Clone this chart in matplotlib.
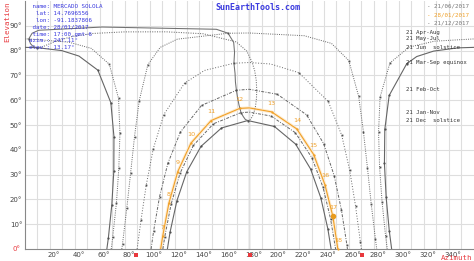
import matplotlib
matplotlib.use("Agg")
import matplotlib.pyplot as plt
from matplotlib.transforms import ScaledTranslation

# sun paths: azimuth / elevation (deg)
jun_az = [65.7, 66.9, 69.7, 71.3, 71.4, 68.9, 58.5, 43.3, 29.5, 9.6, 0.0, 360.0, 347.2, 328.0, 314.4, 306.4, 292.3, 288.8, 288.5, 289.9, 292.4, 294.3]
jun_el = [0, 4.4, 17.9, 31.6, 45.3, 59.0, 72.1, 77.8, 80.0, 81.2, 81.3, 81.3, 81.1, 79.8, 77.6, 74.7, 61.9, 48.2, 34.5, 20.8, 7.3, 0]
jun_marks = [1, 2, 3, 4, 5, 6, 9, 15, 16, 17, 18, 19, 20]

may_az = [69.2, 70.4, 73.4, 75.3, 76.2, 75.1, 67.7, 53.2, 35.2, 3.0, 0.0, 360.0, 328.7, 308.3, 292.9, 285.0, 283.8, 284.6, 286.6, 289.4, 290.8]
may_el = [0, 4.75, 18.6, 32.5, 46.6, 60.7, 74.5, 80.9, 83.4, 84.7, 84.7, 84.7, 83.8, 81.4, 75.0, 61.2, 47.2, 33.1, 19.1, 5.3, 0]
may_marks = [1, 2, 3, 4, 5, 6, 9, 14, 15, 16, 17, 18, 19]

apr_az = [77.7, 78.3, 81.7, 84.8, 87.9, 91.7, 98.6, 108.5, 122.2, 163.0, 180.0, 224.2, 246.0, 259.9, 267.8, 271.7, 274.9, 277.9, 281.3, 282.3]
apr_el = [0, 2.2, 16.4, 30.8, 45.3, 59.8, 74.3, 81.3, 84.6, 87.0, 87.1, 86.0, 82.9, 76.0, 61.6, 47.1, 32.6, 18.2, 3.9, 0]
apr_marks = [1, 2, 3, 4, 5, 6, 9, 13, 14, 15, 16, 17, 18]

mar_az = [90.0, 93.1, 97.4, 102.9, 111.4, 128.1, 144.1, 167.7, 180.0, 197.1, 219.8, 243.4, 254.2, 260.6, 265.3, 269.2, 270.0]
mar_el = [0, 11.6, 26.0, 40.3, 54.2, 66.9, 72.0, 74.9, 75.2, 74.6, 71.1, 59.5, 45.9, 31.8, 17.4, 2.9, 0]
mar_marks = [1, 2, 3, 4, 5, 7, 10, 11, 12, 13, 14, 15]

feb_az = [101.2, 103.2, 108.0, 114.7, 124.8, 141.7, 169.7, 180.0, 202.5, 226.0, 239.7, 248.2, 254.0, 258.4, 258.8]
feb_el = [0, 7.1, 21.1, 34.6, 47.2, 57.9, 64.0, 64.4, 62.4, 54.1, 42.5, 29.5, 15.7, 1.6, 0]
feb_marks = [1, 2, 3, 4, 5, 6, 8, 9, 10, 11, 12, 13]

jan_az = [110.7, 112.2, 117.3, 124.5, 135.2, 151.3, 173.4, 180.0, 197.6, 217.0, 230.3, 239.2, 245.3, 249.3]
jan_el = [0, 5.0, 18.1, 30.6, 41.8, 50.5, 55.0, 55.2, 53.6, 46.9, 36.8, 24.9, 12.1, 0]
jan_marks = [1, 2, 3, 4, 5, 6, 8, 9, 10, 11, 12]

dec_az = [114.3, 116.4, 121.9, 129.8, 141.3, 157.7, 178.8, 200.2, 217.2, 229.2, 237.4, 243.1, 245.7]
dec_el = [0, 6.7, 19.4, 31.1, 41.4, 48.8, 51.8, 49.4, 42.3, 32.3, 20.7, 8.1, 0]
dec_marks = [1, 2, 3, 4, 5, 6, 7, 8, 9, 10, 11]

# selected day 28/01/2017
day_az = [108.9, 110.5, 115.5, 122.6, 133.2, 149.4, 172.4, 180.0, 197.9, 218.2, 231.7, 240.7, 247.11, 251.1]
day_el = [0, 5.1, 18.5, 31.2, 42.7, 51.8, 56.7, 56.9, 55.3, 48.4, 38.1, 26.0, 13.17, 0]
day_marks = [1, 2, 3, 4, 5, 6, 8, 9, 10, 11, 12, 13]
day_hours = [7, 8, 9, 10, 11, 12, 13, 14, 15, 16, 17, 18]
now_az, now_el = 247.11, 13.17

# 12:00 analemma, two halves
ana1_az = [178.8, 176.9, 175.2, 173.4, 171.8, 170.6, 169.7, 168.9, 168.6, 167.7, 168.2, 167.5, 163.0, 153.6, 62.0, 11.0, 5.7, 3.0, 4.4, 6.6, 9.6]
ana1_el = [51.8, 52.2, 53.4, 55.0, 58.0, 61.0, 64.0, 67.4, 70.8, 74.9, 79.3, 83.3, 87.0, 88.6, 89.5, 88.2, 87.0, 84.7, 82.8, 81.6, 81.2]
ana2_az = [9.6, 13.4, 18.1, 24.3, 37.8, 54.2, 79.9, 113.5, 143.0, 169.6, 178.0, 182.3, 184.4, 185.6, 186.0, 185.8, 185.0, 183.8, 182.5, 180.8, 178.8]
ana2_el = [81.2, 81.4, 82.4, 83.7, 85.7, 86.9, 87.55, 87.57, 86.8, 83.5, 79.8, 75.3, 71.8, 68.0, 64.2, 60.7, 57.5, 55.1, 53.4, 52.2, 51.8]

path_labels = ["21 Apr-Aug", "21 May-Jul", "21 Jun  solstice", "21 Mar-Sep equinox",
               "21 Feb-Oct", "21 Jan-Nov", "21 Dec  solstice"]
path_label_el = [87.1, 84.7, 81.3, 75.2, 64.4, 55.2, 51.8]

info = [" name: MERCADO SOLOLA", "  lat: 14.7696556", "  lon: -91.1837806",
        " date: 28/01/2017", " time: 17:00,gmt-6", "azim.: 247.11\u00b0", "elev.: 13.17\u00b0"]
legend_txt = ["- 21/06/2017", "- 28/01/2017", "- 21/12/2017"]
cardinal_az = [89, 180.5, 270.5]

GRAY = "#666666"
ORANGE = "#f0a028"
RED = "#e8383d"
BLUE = "#3a3adf"
MONO = "DejaVu Sans Mono"

fig = plt.figure(figsize=(4.74, 2.61), dpi=100)
ax = fig.add_axes([25 / 474, 12 / 261, 448.5 / 474, 248 / 261])
ax.set_xlim(0, 360)
ax.set_ylim(0, 100)

xt = list(range(20, 360, 20))
ax.set_xticks(xt, [f"{v}\u00b0" for v in xt])
ax.set_xticks(list(range(10, 360, 20)), minor=True)
yt = list(range(10, 100, 10))
ax.set_yticks(yt, [f"{v}\u00b0" for v in yt])
ax.grid(which="both", color="#dedede", lw=0.8, zorder=0)
ax.axvline(180, color="#8c8c8c", lw=0.9, zorder=1)
ax.tick_params(which="both", length=0, labelsize=5, colors="#444444", pad=2)
shift = ScaledTranslation(4 / 100, 0, fig.dpi_scale_trans)
for lab in ax.get_xticklabels():
    lab.set_transform(lab.get_transform() + shift)
for s in ["top", "right"]:
    ax.spines[s].set_visible(False)
for s in ["left", "bottom"]:
    ax.spines[s].set_color("#888888")
    ax.spines[s].set_linewidth(0.8)


def draw(az, el, marks, ls, mk, ms, lw=0.7):
    # split where azimuth wraps through north
    segs = [[0]]
    for i in range(1, len(az)):
        if abs(az[i] - az[i - 1]) > 180:
            segs.append([i])
        else:
            segs[-1].append(i)
    for seg in segs:
        ax.plot([az[i] for i in seg], [el[i] for i in seg], color=GRAY, lw=lw, ls=ls, zorder=3)
    ax.plot([az[i] for i in marks], [el[i] for i in marks], ls="none", marker=mk,
            ms=ms, color="#505050", mew=0, zorder=4)


dots = (0, (1, 1.3))
dashdot = (0, (3, 1.4, 1, 1.4))
draw(jun_az, jun_el, jun_marks, "-", "o", 1.6, 0.8)
draw(may_az, may_el, may_marks, dots, "s", 1.3)
draw(apr_az, apr_el, apr_marks, dots, "s", 1.3)
draw(mar_az, mar_el, mar_marks, (0, (1, 1.8)), "s", 1.3)
draw(feb_az, feb_el, feb_marks, dashdot, "s", 1.3)
draw(jan_az, jan_el, jan_marks, dashdot, "s", 1.3)
draw(dec_az, dec_el, dec_marks, "-", "o", 1.6, 0.8)

ax.plot(ana1_az, ana1_el, color="#707070", lw=0.75, zorder=3)
ax.plot(ana2_az, ana2_el, color="#707070", lw=0.75, ls=dots, zorder=3)

# selected day
ax.plot(day_az, day_el, color="#fdebd0", lw=2.2, zorder=2, solid_capstyle="round")
ax.plot(day_az, day_el, color=ORANGE, lw=0.8, zorder=5)
ax.plot([day_az[i] for i in day_marks], [day_el[i] for i in day_marks], ls="none",
        marker="o", ms=1.6, mew=0, color=ORANGE, zorder=6, clip_on=False)
for i, h in zip(day_marks, day_hours):
    ax.annotate(str(h), (day_az[i], day_el[i]), xytext=(0, 6.3), textcoords="offset points",
                ha="center", va="center", fontsize=4.6, color=ORANGE, zorder=7)
ax.plot([now_az], [now_el], ls="none", marker="o", ms=4.0, mew=0, color="#e89a1c", zorder=7)

for lab, e in zip(path_labels, path_label_el):
    ax.text(306, e, lab, ha="left", va="center", fontsize=4.1, family=MONO, color="#333333", zorder=8)

ax.plot(cardinal_az, [-2.3] * 3, ls="none", marker="s", ms=2.4, mew=0, color=RED, clip_on=False)

ax.text(-4, 0, "0\u00b0", ha="right", va="center", fontsize=5, color=RED)

W, H = 474, 261
fig.text(7 / W, 1 - 1 / H, "Elevation", rotation=90, ha="center", va="top",
         fontsize=5.3, family=MONO, color=RED)
fig.text(472 / W, 1 - 258 / H, "Azimuth", ha="right", va="center",
         fontsize=5.3, family=MONO, color=RED)
for k, line in enumerate(info):
    fig.text(29 / W, 1 - (6.5 + 6.9 * k) / H, line, ha="left", va="center",
             fontsize=4.2, family=MONO, color=BLUE)
fig.text(258 / W, 1 - 7 / H, "SunEarthTools.com", ha="center", va="center",
         fontsize=6, family=MONO, weight="bold", color=BLUE)
for k, (t, c) in enumerate(zip(legend_txt, ["#777777", ORANGE, "#777777"])):
    fig.text(427 / W, 1 - (6.5 + 8.3 * k) / H, t, ha="left", va="center",
             fontsize=4.2, family=MONO, color=c)

fig.savefig("out.png", dpi=100)
